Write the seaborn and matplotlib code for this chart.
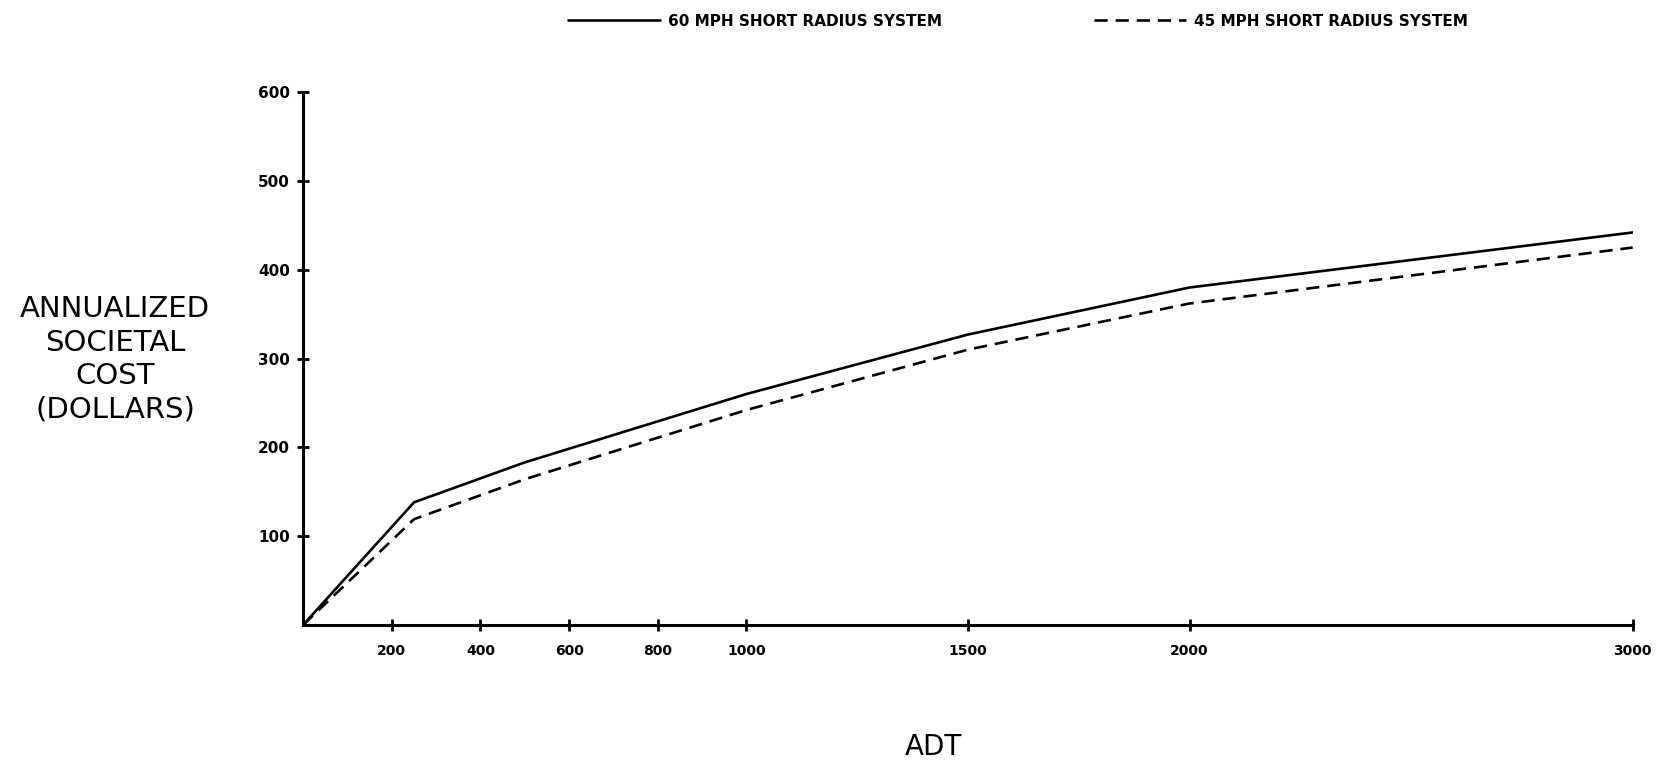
import pandas as pd
import numpy as np
import matplotlib
matplotlib.use('Agg')
import matplotlib.pyplot as plt
import seaborn as sns

# values
adt = [0, 250, 500, 1000, 1500, 2000, 3000]
cost_60 = [0, 138, 183, 260, 327, 380, 442]
cost_45 = [0, 119, 164, 242, 310, 362, 425]
series = ['60 MPH SHORT RADIUS SYSTEM', '45 MPH SHORT RADIUS SYSTEM']
x_ticks = [200, 400, 600, 800, 1000, 1500, 2000, 3000]
y_ticks = [100, 200, 300, 400, 500, 600]

df = pd.DataFrame({
    'ADT': adt + adt,
    'cost': cost_60 + cost_45,
    'system': [series[0]] * len(adt) + [series[1]] * len(adt),
})

sns.set_theme(style='white')
plt.rcParams['font.family'] = ['DejaVu Sans']
plt.rcParams['text.color'] = 'black'

fig = plt.figure(figsize=(16.66, 7.62), dpi=100)
ax = fig.add_axes([0.182, 0.180, 0.798, 0.699])

sns.lineplot(data=df, x='ADT', y='cost', style='system', color='black',
             dashes={series[0]: '', series[1]: (5, 3)}, linewidth=1.9,
             ax=ax, legend=True)

ax.set_xlim(0, 3000)
ax.set_ylim(0, 600)
ax.set_xticks(x_ticks)
ax.set_yticks(y_ticks)
ax.set_xticklabels([str(t) for t in x_ticks], fontsize=10, fontweight='bold', color='black')
ax.set_yticklabels([str(t) for t in y_ticks], fontsize=11, fontweight='bold', color='black')
ax.tick_params(axis='both', direction='inout', length=9, width=2, color='black',
               bottom=True, left=True)
ax.tick_params(axis='x', pad=9)
ax.tick_params(axis='y', pad=5)

sns.despine(ax=ax)
for s in ['left', 'bottom']:
    ax.spines[s].set_linewidth(2.2)
    ax.spines[s].set_color('black')

ax.set_xlabel('')
ax.set_ylabel('')
fig.text(0.069, 0.528, 'ANNUALIZED\nSOCIETAL\nCOST\n(DOLLARS)', ha='center', va='center',
         fontsize=21, linespacing=1.25)
fig.text(0.56, 0.02, 'ADT', ha='center', va='center', fontsize=20)

handles, labels = ax.get_legend_handles_labels()
ax.get_legend().remove()
leg = fig.legend(handles, labels, loc='center', bbox_to_anchor=(0.611, 0.972), ncol=2,
                 frameon=False, handlelength=6, columnspacing=10, handletextpad=0.5,
                 prop={'size': 11, 'weight': 'bold'})

fig.savefig('out.png', dpi=100)
